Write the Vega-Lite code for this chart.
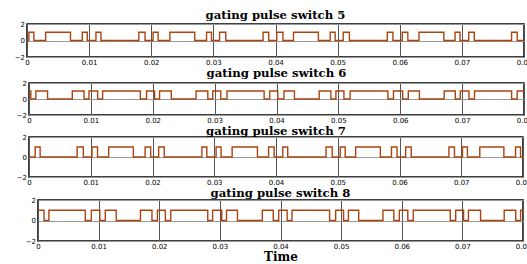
{
  "$schema": "https://vega.github.io/schema/vega-lite/v6.json",
  "padding": {"left": 0, "top": 9, "right": 0, "bottom": 0},
  "background": "white",
  "spacing": 0,
  "config": {
    "view": {"stroke": "black", "strokeWidth": 1.5},
    "axis": {"labelFont": "DejaVu Sans", "labelFontSize": 7, "labelColor": "#000", "ticks": false, "tickSize": 0, "domain": false, "grid": true, "labelFlush": false},
    "title": {"font": "DejaVu Serif", "fontWeight": "bold", "fontSize": 11.7, "color": "#000"},
    "line": {"interpolate": "step-after", "color": "#ad440f", "strokeWidth": 1.4}
  },
  "data": {"values": [
    {"s":5,"t":0,"v":0},{"s":5,"t":0.0003,"v":1},{"s":5,"t":0.0011,"v":0},{"s":5,"t":0.0030,"v":1},{"s":5,"t":0.0070,"v":0},{"s":5,"t":0.0089,"v":1},{"s":5,"t":0.0097,"v":0},{"s":5,"t":0.0111,"v":1},{"s":5,"t":0.0119,"v":0},{"s":5,"t":0.0180,"v":1},{"s":5,"t":0.0190,"v":0},
    {"s":5,"t":0.0203,"v":1},{"s":5,"t":0.0211,"v":0},{"s":5,"t":0.0230,"v":1},{"s":5,"t":0.0270,"v":0},{"s":5,"t":0.0289,"v":1},{"s":5,"t":0.0297,"v":0},{"s":5,"t":0.0310,"v":1},{"s":5,"t":0.0320,"v":0},{"s":5,"t":0.0380,"v":1},{"s":5,"t":0.0389,"v":0},
    {"s":5,"t":0.0402,"v":1},{"s":5,"t":0.0412,"v":0},{"s":5,"t":0.0429,"v":1},{"s":5,"t":0.0469,"v":0},{"s":5,"t":0.0488,"v":1},{"s":5,"t":0.0496,"v":0},{"s":5,"t":0.0509,"v":1},{"s":5,"t":0.0519,"v":0},{"s":5,"t":0.0580,"v":1},{"s":5,"t":0.0589,"v":0},
    {"s":5,"t":0.0604,"v":1},{"s":5,"t":0.0613,"v":0},{"s":5,"t":0.0631,"v":1},{"s":5,"t":0.0671,"v":0},{"s":5,"t":0.0689,"v":1},{"s":5,"t":0.0697,"v":0},{"s":5,"t":0.0711,"v":1},{"s":5,"t":0.0720,"v":0},{"s":5,"t":0.0780,"v":1},{"s":5,"t":0.0789,"v":0},{"s":5,"t":0.08,"v":0},

    {"s":6,"t":0,"v":1},{"s":6,"t":0.0003,"v":0},{"s":6,"t":0.0011,"v":1},{"s":6,"t":0.0030,"v":0},{"s":6,"t":0.0070,"v":1},{"s":6,"t":0.0089,"v":0},{"s":6,"t":0.0097,"v":1},{"s":6,"t":0.0111,"v":0},{"s":6,"t":0.0119,"v":1},{"s":6,"t":0.0180,"v":0},{"s":6,"t":0.0190,"v":1},
    {"s":6,"t":0.0203,"v":0},{"s":6,"t":0.0211,"v":1},{"s":6,"t":0.0230,"v":0},{"s":6,"t":0.0270,"v":1},{"s":6,"t":0.0289,"v":0},{"s":6,"t":0.0297,"v":1},{"s":6,"t":0.0310,"v":0},{"s":6,"t":0.0320,"v":1},{"s":6,"t":0.0380,"v":0},{"s":6,"t":0.0389,"v":1},
    {"s":6,"t":0.0402,"v":0},{"s":6,"t":0.0412,"v":1},{"s":6,"t":0.0429,"v":0},{"s":6,"t":0.0469,"v":1},{"s":6,"t":0.0488,"v":0},{"s":6,"t":0.0496,"v":1},{"s":6,"t":0.0509,"v":0},{"s":6,"t":0.0519,"v":1},{"s":6,"t":0.0580,"v":0},{"s":6,"t":0.0589,"v":1},
    {"s":6,"t":0.0604,"v":0},{"s":6,"t":0.0613,"v":1},{"s":6,"t":0.0631,"v":0},{"s":6,"t":0.0671,"v":1},{"s":6,"t":0.0689,"v":0},{"s":6,"t":0.0697,"v":1},{"s":6,"t":0.0711,"v":0},{"s":6,"t":0.0720,"v":1},{"s":6,"t":0.0780,"v":0},{"s":6,"t":0.0789,"v":1},{"s":6,"t":0.08,"v":1},

    {"s":7,"t":0,"v":0},{"s":7,"t":0.0010,"v":1},{"s":7,"t":0.0018,"v":0},{"s":7,"t":0.0078,"v":1},{"s":7,"t":0.0088,"v":0},{"s":7,"t":0.0102,"v":1},{"s":7,"t":0.0111,"v":0},{"s":7,"t":0.0129,"v":1},{"s":7,"t":0.0169,"v":0},{"s":7,"t":0.0188,"v":1},{"s":7,"t":0.0197,"v":0},
    {"s":7,"t":0.0210,"v":1},{"s":7,"t":0.0219,"v":0},{"s":7,"t":0.0280,"v":1},{"s":7,"t":0.0288,"v":0},{"s":7,"t":0.0303,"v":1},{"s":7,"t":0.0311,"v":0},{"s":7,"t":0.0329,"v":1},{"s":7,"t":0.0370,"v":0},{"s":7,"t":0.0388,"v":1},{"s":7,"t":0.0397,"v":0},
    {"s":7,"t":0.0411,"v":1},{"s":7,"t":0.0419,"v":0},{"s":7,"t":0.0481,"v":1},{"s":7,"t":0.0491,"v":0},{"s":7,"t":0.0504,"v":1},{"s":7,"t":0.0512,"v":0},{"s":7,"t":0.0529,"v":1},{"s":7,"t":0.0569,"v":0},{"s":7,"t":0.0587,"v":1},{"s":7,"t":0.0596,"v":0},
    {"s":7,"t":0.0610,"v":1},{"s":7,"t":0.0619,"v":0},{"s":7,"t":0.0680,"v":1},{"s":7,"t":0.0689,"v":0},{"s":7,"t":0.0702,"v":1},{"s":7,"t":0.0710,"v":0},{"s":7,"t":0.0730,"v":1},{"s":7,"t":0.0769,"v":0},{"s":7,"t":0.0788,"v":1},{"s":7,"t":0.0796,"v":0},{"s":7,"t":0.08,"v":0},

    {"s":8,"t":0,"v":1},{"s":8,"t":0.0010,"v":0},{"s":8,"t":0.0018,"v":1},{"s":8,"t":0.0078,"v":0},{"s":8,"t":0.0088,"v":1},{"s":8,"t":0.0102,"v":0},{"s":8,"t":0.0111,"v":1},{"s":8,"t":0.0129,"v":0},{"s":8,"t":0.0169,"v":1},{"s":8,"t":0.0188,"v":0},{"s":8,"t":0.0197,"v":1},
    {"s":8,"t":0.0210,"v":0},{"s":8,"t":0.0219,"v":1},{"s":8,"t":0.0280,"v":0},{"s":8,"t":0.0288,"v":1},{"s":8,"t":0.0303,"v":0},{"s":8,"t":0.0311,"v":1},{"s":8,"t":0.0329,"v":0},{"s":8,"t":0.0370,"v":1},{"s":8,"t":0.0388,"v":0},{"s":8,"t":0.0397,"v":1},
    {"s":8,"t":0.0411,"v":0},{"s":8,"t":0.0419,"v":1},{"s":8,"t":0.0481,"v":0},{"s":8,"t":0.0491,"v":1},{"s":8,"t":0.0504,"v":0},{"s":8,"t":0.0512,"v":1},{"s":8,"t":0.0529,"v":0},{"s":8,"t":0.0569,"v":1},{"s":8,"t":0.0587,"v":0},{"s":8,"t":0.0596,"v":1},
    {"s":8,"t":0.0610,"v":0},{"s":8,"t":0.0619,"v":1},{"s":8,"t":0.0680,"v":0},{"s":8,"t":0.0689,"v":1},{"s":8,"t":0.0702,"v":0},{"s":8,"t":0.0710,"v":1},{"s":8,"t":0.0730,"v":0},{"s":8,"t":0.0769,"v":1},{"s":8,"t":0.0788,"v":0},{"s":8,"t":0.0796,"v":1},{"s":8,"t":0.08,"v":1}
  ]},
  "vconcat": [
    {"spacing": 0, "hconcat": [
      {"width": 11, "height": 1, "data": {"values": []}, "mark": "point", "view": {"stroke": "transparent"}},
      {
      "width": 497, "height": 33,
      "title": {"text": "gating pulse switch 5", "offset": -2},
      "transform": [{"filter": "datum.s == 5"}],
      "mark": {"type": "line"},
      "encoding": {
        "x": {"field": "t", "type": "quantitative", "scale": {"domain": [0, 0.08], "nice": false, "zero": false},
              "axis": {"values": [0,0.01,0.02,0.03,0.04,0.05,0.06,0.07,0.08], "format": "~g", "title": null, "labelPadding": 1.5, "gridColor": "#555", "gridOpacity": 1}},
        "y": {"field": "v", "type": "quantitative", "scale": {"domain": [-2, 2], "nice": false},
              "axis": {"values": [-2,0,2], "title": null, "minExtent": 10, "maxExtent": 10, "labelPadding": 2.5, "gridColor": "#999", "gridOpacity": 1}}
      }
    }]},
    {"spacing": 0, "hconcat": [
      {"width": 13, "height": 1, "data": {"values": []}, "mark": "point", "view": {"stroke": "transparent"}},
      {
      "width": 495, "height": 32,
      "title": {"text": "gating pulse switch 6", "offset": -1},
      "transform": [{"filter": "datum.s == 6"}],
      "mark": {"type": "line"},
      "encoding": {
        "x": {"field": "t", "type": "quantitative", "scale": {"domain": [0, 0.08], "nice": false, "zero": false},
              "axis": {"values": [0,0.01,0.02,0.03,0.04,0.05,0.06,0.07,0.08], "format": "~g", "title": null, "labelPadding": 1.5, "gridColor": "#555", "gridOpacity": 1}},
        "y": {"field": "v", "type": "quantitative", "scale": {"domain": [-2, 2], "nice": false},
              "axis": {"values": [-2,0,2], "title": null, "minExtent": 10, "maxExtent": 10, "labelPadding": 2.5, "gridColor": "#999", "gridOpacity": 1}}
      }
    }]},
    {"spacing": 0, "hconcat": [
      {"width": 13, "height": 1, "data": {"values": []}, "mark": "point", "view": {"stroke": "transparent"}},
      {
      "width": 494, "height": 40,
      "title": {"text": "gating pulse switch 7", "offset": -5},
      "transform": [{"filter": "datum.s == 7"}],
      "mark": {"type": "line"},
      "encoding": {
        "x": {"field": "t", "type": "quantitative", "scale": {"domain": [0, 0.08], "nice": false, "zero": false},
              "axis": {"values": [0,0.01,0.02,0.03,0.04,0.05,0.06,0.07,0.08], "format": "~g", "title": null, "labelPadding": 1.5, "gridColor": "#555", "gridOpacity": 1}},
        "y": {"field": "v", "type": "quantitative", "scale": {"domain": [-2, 2], "nice": false},
              "axis": {"values": [-2,0,2], "title": null, "minExtent": 10, "maxExtent": 10, "labelPadding": 2.5, "gridColor": "#999", "gridOpacity": 1}}
      }
    }]},
    {"spacing": 0, "hconcat": [
      {"width": 22, "height": 1, "data": {"values": []}, "mark": "point", "view": {"stroke": "transparent"}},
      {
      "width": 485, "height": 41,
      "title": {"text": "gating pulse switch 8", "offset": -4},
      "transform": [{"filter": "datum.s == 8"}],
      "mark": {"type": "line"},
      "encoding": {
        "x": {"field": "t", "type": "quantitative", "scale": {"domain": [0, 0.08], "nice": false, "zero": false},
              "axis": {"values": [0,0.01,0.02,0.03,0.04,0.05,0.06,0.07,0.08], "format": "~g", "title": "Time", "titleFont": "DejaVu Serif", "titleFontWeight": "bold", "titleFontSize": 12, "titleColor": "#000", "titlePadding": 2, "labelPadding": 1.5, "gridColor": "#555", "gridOpacity": 1}},
        "y": {"field": "v", "type": "quantitative", "scale": {"domain": [-2, 2], "nice": false},
              "axis": {"values": [-2,0,2], "title": null, "minExtent": 10, "maxExtent": 10, "labelPadding": 2.5, "gridColor": "#999", "gridOpacity": 1}}
      }
    }]}
  ]
}
